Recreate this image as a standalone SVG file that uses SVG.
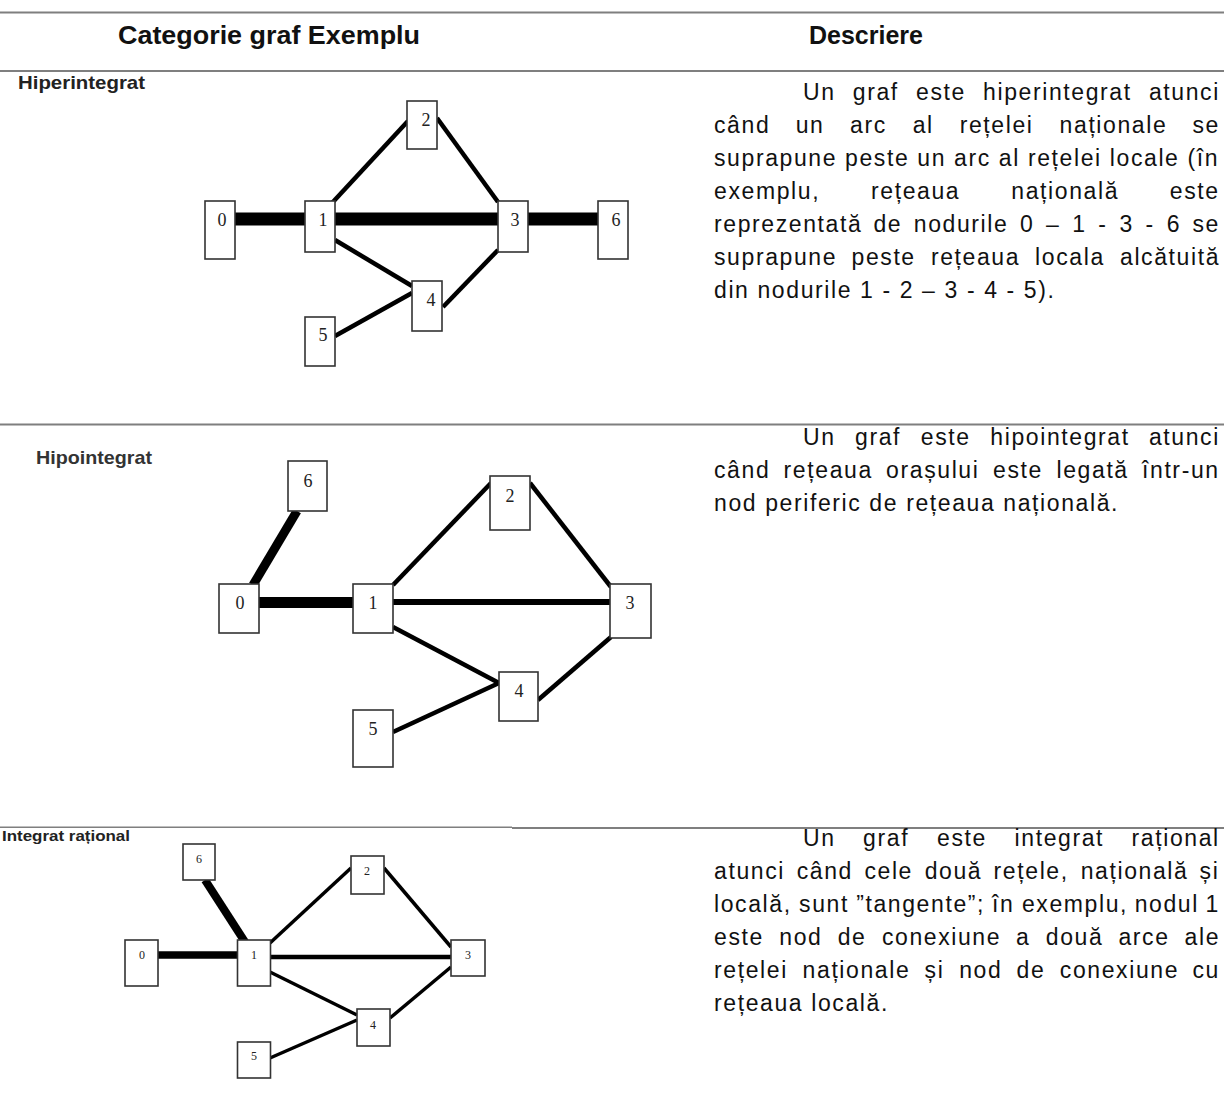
<svg xmlns="http://www.w3.org/2000/svg" width="1224" height="1095" viewBox="0 0 1224 1095">
<style>
.sep{stroke:#7f7f7f;stroke-width:2.2;fill:none}
.hd{font-family:"Liberation Sans",Arial,sans-serif;font-weight:bold;font-size:25px;fill:#111}
.lbl{font-family:"Liberation Sans",Arial,sans-serif;font-weight:bold;fill:#222}
.desc{font-family:"Liberation Sans",Arial,sans-serif;font-size:23px;letter-spacing:1.6px;fill:#111}
.nd rect{fill:#fff;stroke:#333;stroke-width:1.6}
.nd text{font-family:"Liberation Serif","Times New Roman",serif;fill:#222;text-anchor:middle}
.g1 .nd text,.g2 .nd text{font-size:18px}
.g3 .nd text{font-size:12px}
.ed line{stroke:#000;stroke-linecap:butt}
.thin{stroke-width:4.5}
.thin3{stroke-width:3.5}
</style>
<!-- table separators -->
<line class="sep" x1="0" y1="12.5" x2="1224" y2="12.5"/>
<line class="sep" x1="0" y1="71" x2="1224" y2="71"/>
<line class="sep" x1="0" y1="424.5" x2="1224" y2="424.5"/>
<line class="sep" x1="0" y1="827.3" x2="512" y2="827.3" style="stroke-width:1.6"/>
<line class="sep" x1="512" y1="828" x2="1224" y2="828"/>
<!-- header -->
<text class="hd" x="118" y="44" textLength="302" lengthAdjust="spacingAndGlyphs">Categorie graf Exemplu</text>
<text class="hd" x="866" y="44" text-anchor="middle">Descriere</text>

<!-- ROW 1 -->
<text class="lbl" x="18" y="89" font-size="19" textLength="127" lengthAdjust="spacingAndGlyphs">Hiperintegrat</text>
<g id="graph1" class="g1">
<g id="g1-connectors" class="ed">
<line x1="235" y1="219" x2="305" y2="219" stroke-width="13"/>
<line x1="335" y1="219" x2="498" y2="219" stroke-width="13"/>
<line x1="528" y1="219" x2="598" y2="219" stroke-width="13"/>
<line class="thin" x1="332" y1="203" x2="408" y2="121"/>
<line class="thin" x1="437" y1="118" x2="498" y2="202"/>
<line class="thin" x1="335" y1="240" x2="412" y2="286"/>
<line class="thin" x1="498" y1="250" x2="443" y2="307"/>
<line class="thin" x1="335" y1="336" x2="412" y2="293"/>
</g>
<g id="g1-n0" class="nd"><rect x="205" y="201" width="30" height="58"/><text x="222" y="226">0</text></g>
<g id="g1-n1" class="nd"><rect x="305" y="201" width="30" height="51"/><text x="323" y="226">1</text></g>
<g id="g1-n2" class="nd"><rect x="407" y="101" width="30" height="48"/><text x="426" y="126">2</text></g>
<g id="g1-n3" class="nd"><rect x="498" y="201" width="30" height="51"/><text x="515" y="226">3</text></g>
<g id="g1-n4" class="nd"><rect x="412" y="281" width="30" height="50"/><text x="431" y="306">4</text></g>
<g id="g1-n5" class="nd"><rect x="305" y="317" width="30" height="49"/><text x="323" y="341">5</text></g>
<g id="g1-n6" class="nd"><rect x="598" y="201" width="30" height="58"/><text x="616" y="226">6</text></g>
</g>
<text class="desc" y="100"><tspan x="803">Un</tspan><tspan x="852.8">graf</tspan><tspan x="916">este</tspan><tspan x="983.1">hiperintegrat</tspan><tspan x="1148.9">atunci</tspan></text>
<text class="desc" y="133"><tspan x="714">când</tspan><tspan x="795.7">un</tspan><tspan x="850.1">arc</tspan><tspan x="912.7">al</tspan><tspan x="959.7">rețelei</tspan><tspan x="1059.6">naționale</tspan><tspan x="1192.5">se</tspan></text>
<text class="desc" x="714" y="166">suprapune peste un arc al rețelei locale (în</text>
<text class="desc" y="199"><tspan x="714">exemplu,</tspan><tspan x="871">rețeaua</tspan><tspan x="1011.3">națională</tspan><tspan x="1169.8">este</tspan></text>
<text class="desc" y="232"><tspan x="714">reprezentată</tspan><tspan x="873.4">de</tspan><tspan x="913.8">nodurile</tspan><tspan x="1020">0</tspan><tspan x="1046.1">–</tspan><tspan x="1072.2">1</tspan><tspan x="1098.3">-</tspan><tspan x="1119.5">3</tspan><tspan x="1145.6">-</tspan><tspan x="1166.8">6</tspan><tspan x="1192.5">se</tspan></text>
<text class="desc" y="265"><tspan x="714">suprapune</tspan><tspan x="851.5">peste</tspan><tspan x="930.9">rețeaua</tspan><tspan x="1035.1">locala</tspan><tspan x="1120">alcătuită</tspan></text>
<text class="desc" x="714" y="298">din nodurile 1 - 2 – 3 - 4 - 5).</text>

<!-- ROW 2 -->
<text class="lbl" x="36" y="464" font-size="19" textLength="116" lengthAdjust="spacingAndGlyphs" style="fill:#333">Hipointegrat</text>
<g id="graph2" class="g2">
<g id="g2-connectors" class="ed">
<line x1="253" y1="585" x2="297" y2="511" stroke-width="9"/>
<line x1="259" y1="602.5" x2="353" y2="602.5" stroke-width="11"/>
<line x1="393" y1="602" x2="610" y2="602" stroke-width="6"/>
<line class="thin" x1="393" y1="585" x2="491" y2="483"/>
<line class="thin" x1="530" y1="483" x2="611" y2="587"/>
<line class="thin" x1="393" y1="627" x2="499" y2="683"/>
<line class="thin" x1="611" y1="637" x2="538" y2="700"/>
<line class="thin" x1="393" y1="732" x2="499" y2="683"/>
</g>
<g id="g2-n0" class="nd"><rect x="219" y="584" width="40" height="49"/><text x="240" y="609">0</text></g>
<g id="g2-n1" class="nd"><rect x="353" y="584" width="40" height="49"/><text x="373" y="609">1</text></g>
<g id="g2-n2" class="nd"><rect x="490" y="476" width="40" height="54"/><text x="510" y="502">2</text></g>
<g id="g2-n3" class="nd"><rect x="610" y="584" width="41" height="54"/><text x="630" y="609">3</text></g>
<g id="g2-n4" class="nd"><rect x="499" y="672" width="39" height="49"/><text x="519" y="697">4</text></g>
<g id="g2-n5" class="nd"><rect x="353" y="710" width="40" height="57"/><text x="373" y="735">5</text></g>
<g id="g2-n6" class="nd"><rect x="288" y="461" width="39" height="50"/><text x="308" y="487">6</text></g>
</g>
<text class="desc" y="445"><tspan x="803">Un</tspan><tspan x="855">graf</tspan><tspan x="920.8">este</tspan><tspan x="990.3">hipointegrat</tspan><tspan x="1148.9">atunci</tspan></text>
<text class="desc" y="478"><tspan x="714">când</tspan><tspan x="783.6">rețeaua</tspan><tspan x="886.1">orașului</tspan><tspan x="993">este</tspan><tspan x="1056.5">legată</tspan><tspan x="1142">într-un</tspan></text>
<text class="desc" x="714" y="511">nod periferic de rețeaua națională.</text>

<!-- ROW 3 -->
<text class="lbl" x="2" y="841" font-size="15" textLength="128" lengthAdjust="spacingAndGlyphs">Integrat rațional</text>
<g id="graph3" class="g3">
<g id="g3-connectors" class="ed">
<line x1="158" y1="955" x2="238" y2="955" stroke-width="7.5"/>
<line x1="205" y1="880" x2="245" y2="942" stroke-width="8"/>
<line x1="270" y1="957" x2="451" y2="957" stroke-width="4.5"/>
<line class="thin3" x1="270" y1="943" x2="351" y2="868"/>
<line class="thin3" x1="384" y1="868" x2="451" y2="947"/>
<line class="thin3" x1="270" y1="972" x2="357" y2="1015"/>
<line class="thin3" x1="451" y1="967" x2="390" y2="1018"/>
<line class="thin3" x1="270" y1="1058" x2="357" y2="1020"/>
</g>
<g id="g3-n0" class="nd"><rect x="125" y="940" width="33" height="46"/><text x="142" y="959">0</text></g>
<g id="g3-n1" class="nd"><rect x="237.5" y="940" width="33" height="46"/><text x="254" y="959">1</text></g>
<g id="g3-n2" class="nd"><rect x="351" y="856" width="33" height="38"/><text x="367" y="875">2</text></g>
<g id="g3-n3" class="nd"><rect x="451" y="940" width="34" height="36"/><text x="468" y="959">3</text></g>
<g id="g3-n4" class="nd"><rect x="357" y="1009" width="33" height="37"/><text x="373" y="1029">4</text></g>
<g id="g3-n5" class="nd"><rect x="237.5" y="1042" width="33" height="36"/><text x="254" y="1060">5</text></g>
<g id="g3-n6" class="nd"><rect x="183" y="844" width="32" height="36"/><text x="199" y="863">6</text></g>
</g>
<text class="desc" y="846"><tspan x="803">Un</tspan><tspan x="863.1">graf</tspan><tspan x="937">este</tspan><tspan x="1014.6">integrat</tspan><tspan x="1131.6">rațional</tspan></text>
<text class="desc" y="879"><tspan x="714">atunci</tspan><tspan x="796.7">când</tspan><tspan x="864.4">cele</tspan><tspan x="924.7">două</tspan><tspan x="993.6">rețele,</tspan><tspan x="1080.7">națională</tspan><tspan x="1199.6">și</tspan></text>
<text class="desc" y="912"><tspan x="714">locală,</tspan><tspan x="799.1">sunt</tspan><tspan x="856.2">”tangente”;</tspan><tspan x="992.1">în</tspan><tspan x="1021.9">exemplu,</tspan><tspan x="1134.7">nodul</tspan><tspan x="1205.6">1</tspan></text>
<text class="desc" y="945"><tspan x="714">este</tspan><tspan x="779.3">nod</tspan><tspan x="837.7">de</tspan><tspan x="881.9">conexiune</tspan><tspan x="1015.9">a</tspan><tspan x="1045.8">două</tspan><tspan x="1118.4">arce</tspan><tspan x="1184.6">ale</tspan></text>
<text class="desc" y="978"><tspan x="714">rețelei</tspan><tspan x="802.6">naționale</tspan><tspan x="924.6">și</tspan><tspan x="959.2">nod</tspan><tspan x="1016.6">de</tspan><tspan x="1059.8">conexiune</tspan><tspan x="1192.5">cu</tspan></text>
<text class="desc" x="714" y="1011">rețeaua locală.</text>
</svg>
